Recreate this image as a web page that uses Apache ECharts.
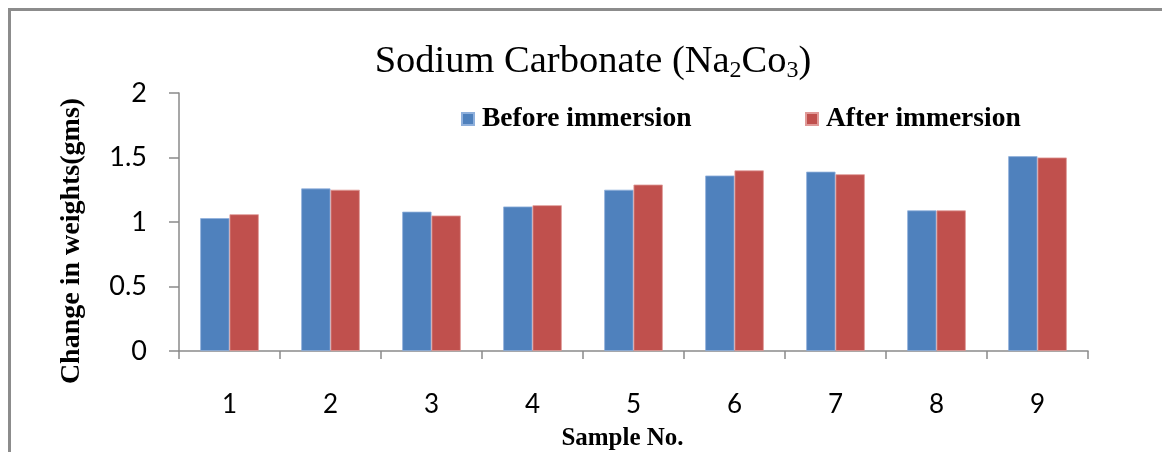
<!DOCTYPE html>
<html>
<head>
<meta charset="utf-8">
<script src="https://cdn.jsdelivr.net/npm/echarts@6/dist/echarts.min.js"></script>
<style>
  html, body { margin: 0; padding: 0; background: #ffffff; }
  #chart { width: 1162px; height: 452px; }
</style>
</head>
<body>
<div id="chart"></div>
<script>
// Sample numbers along the x axis
const samples = ['1', '2', '3', '4', '5', '6', '7', '8', '9'];
// Weights (gms) of each sample before and after immersion
const beforeImmersion = [1.03, 1.26, 1.08, 1.12, 1.25, 1.36, 1.39, 1.09, 1.51];
const afterImmersion  = [1.06, 1.25, 1.05, 1.13, 1.29, 1.40, 1.37, 1.09, 1.50];
// Value axis ticks
const yTicks = [0, 0.5, 1, 1.5, 2];

const serif = '"Liberation Serif", "Times New Roman", serif';
const sans = 'Lato, "Open Sans", sans-serif';
const axisGray = '#8a8a8a';

const legendText = { fontFamily: serif, fontSize: 27.5, color: '#000000', fontWeight: 'bold', padding: [0, 0, 0, 3] };

const chart = echarts.init(document.getElementById('chart'), null, { renderer: 'canvas' });

chart.setOption({
  backgroundColor: '#ffffff',
  animation: false,
  title: {
    text: 'Sodium Carbonate (Na{sub|2}Co{sub|3})',
    left: 588,
    textAlign: 'center',
    top: 36,
    textStyle: {
      fontFamily: serif,
      fontSize: 38.5,
      fontWeight: 'normal',
      color: '#000000',
      rich: {
        sub: { fontFamily: serif, fontSize: 24, color: '#000000', verticalAlign: 'bottom', padding: [18, 0, 0, 0] }
      }
    }
  },
  legend: [
    {
      left: 461, top: 105, padding: 0, itemWidth: 12, itemHeight: 12, icon: 'rect',
      textStyle: legendText, data: ['Before immersion']
    },
    {
      left: 805, top: 105, padding: 0, itemWidth: 12, itemHeight: 12, icon: 'rect',
      textStyle: legendText, data: ['After immersion']
    }
  ],
  grid: { left: 179, right: 74, top: 93, bottom: 101, containLabel: false, outerBoundsMode: 'none' },
  xAxis: {
    type: 'category',
    data: samples,
    name: 'Sample No.',
    nameLocation: 'middle',
    nameGap: 75,
    nameTextStyle: { fontFamily: serif, fontSize: 25, color: '#000000', fontWeight: 'bold', padding: [0, 22, 0, 0] },
    axisLine: { lineStyle: { color: axisGray, width: 1.5 } },
    axisTick: { show: true, length: 8, lineStyle: { color: axisGray, width: 1.5 } },
    axisLabel: { margin: 41, fontFamily: sans, fontSize: 26, color: '#000000' }
  },
  yAxis: {
    type: 'value',
    min: yTicks[0],
    max: yTicks[yTicks.length - 1],
    interval: yTicks[1] - yTicks[0],
    name: 'Change in weights(gms)',
    nameLocation: 'middle',
    nameRotate: 90,
    nameGap: 93,
    nameTextStyle: { fontFamily: serif, fontSize: 28, color: '#000000', fontWeight: 'bold', padding: [0, 38, 0, 0] },
    axisLine: { show: true, lineStyle: { color: axisGray, width: 1.5 } },
    axisTick: { show: true, length: 10, lineStyle: { color: axisGray, width: 1.5 } },
    splitLine: { show: false },
    axisLabel: {
      margin: 32,
      fontFamily: sans,
      fontSize: 27,
      color: '#000000',
      formatter: v => String(v)
    }
  },
  series: [
    {
      name: 'Before immersion',
      type: 'bar',
      data: beforeImmersion,
      barGap: '0%',
      barCategoryGap: '42%',
      itemStyle: { color: '#4F81BD', borderColor: '#8fb0dc', borderWidth: 0.8 }
    },
    {
      name: 'After immersion',
      type: 'bar',
      data: afterImmersion,
      barGap: '0%',
      barCategoryGap: '42%',
      itemStyle: { color: '#C0504D', borderColor: '#e09a98', borderWidth: 0.8 }
    }
  ],
  graphic: [
    // outer frame: top and left edges
    { type: 'rect', left: 8, top: 8, shape: { width: 1154, height: 3 }, style: { fill: '#8c8c8c' }, silent: true },
    { type: 'rect', left: 8, top: 8, shape: { width: 3, height: 444 }, style: { fill: '#8c8c8c' }, silent: true }
  ]
});
</script>
</body>
</html>
